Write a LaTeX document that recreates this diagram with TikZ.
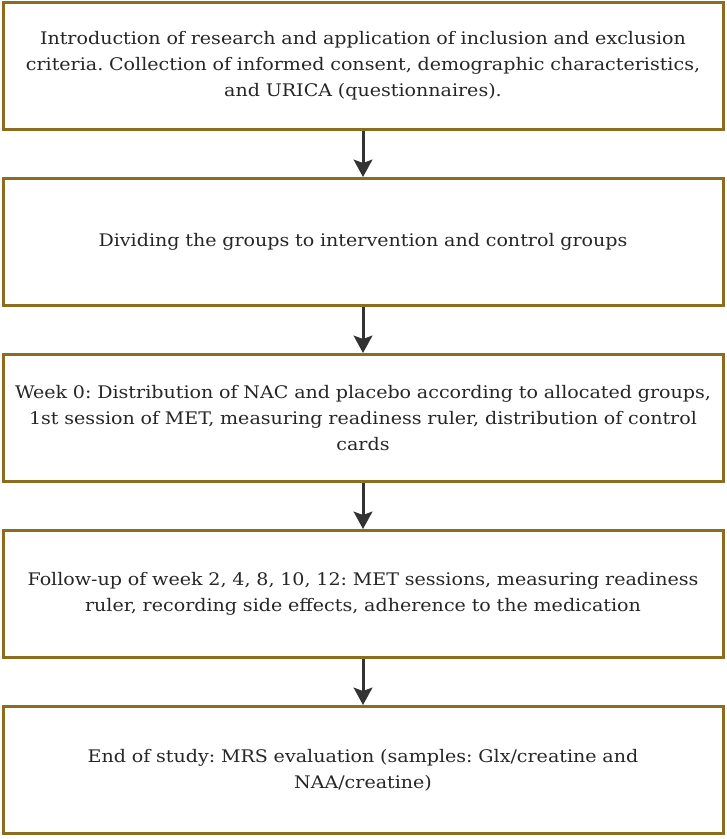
\documentclass[tikz,border=0pt]{standalone}
\usepackage{fontspec}
\setmainfont[FakeStretch=1.1]{DejaVu Serif}
\usepackage{xcolor}
\usetikzlibrary{arrows.meta,positioning}
\definecolor{boxgold}{HTML}{8C6D1F}
\definecolor{arrowgray}{HTML}{333333}
\frenchspacing

\begin{document}
\begin{tikzpicture}[
font=\fontsize{13}{19.5}\selectfont,
stage/.style={draw=boxgold,line width=2.25pt,minimum width=540pt,minimum height=95.25pt,
  text width=535pt,align=center,inner sep=0pt,text=black!85},
flow/.style={-{Stealth[length=13pt,width=14pt,inset=2.5pt]},line width=2.25pt,draw=arrowgray,color=arrowgray},
node distance=34.5pt]
    % page frame
    \useasboundingbox (0,0) rectangle (544.5pt,-629.25pt);

    \node[stage] (intro) at (272.25pt,-49.5pt)
        {Introduction of research and application of inclusion and exclusion\\
         criteria. Collection of informed consent, demographic characteristics,\\
         and URICA (questionnaires).};
    \node[stage, below=of intro] (divide)
        {Dividing the groups to intervention and control groups};
    \node[stage, below=of divide] (week)
        {Week 0: Distribution of NAC and placebo according to allocated groups,\\
         1st session of MET, measuring readiness ruler, distribution of control\\
         cards};
    \node[stage, below=of week] (follow)
        {Follow-up of week 2, 4, 8, 10, 12: MET sessions, measuring readiness\\
         ruler, recording side effects, adherence to the medication};
    \node[stage, below=of follow] (study)
        {End of study: MRS evaluation (samples: Glx/creatine and\\
         NAA/creatine)};

    % arrows between stages
    \draw[flow] (intro) -- (divide);
    \draw[flow] (divide) -- (week);
    \draw[flow] (week) -- (follow);
    \draw[flow] (follow) -- (study);

\end{tikzpicture}
\end{document}
